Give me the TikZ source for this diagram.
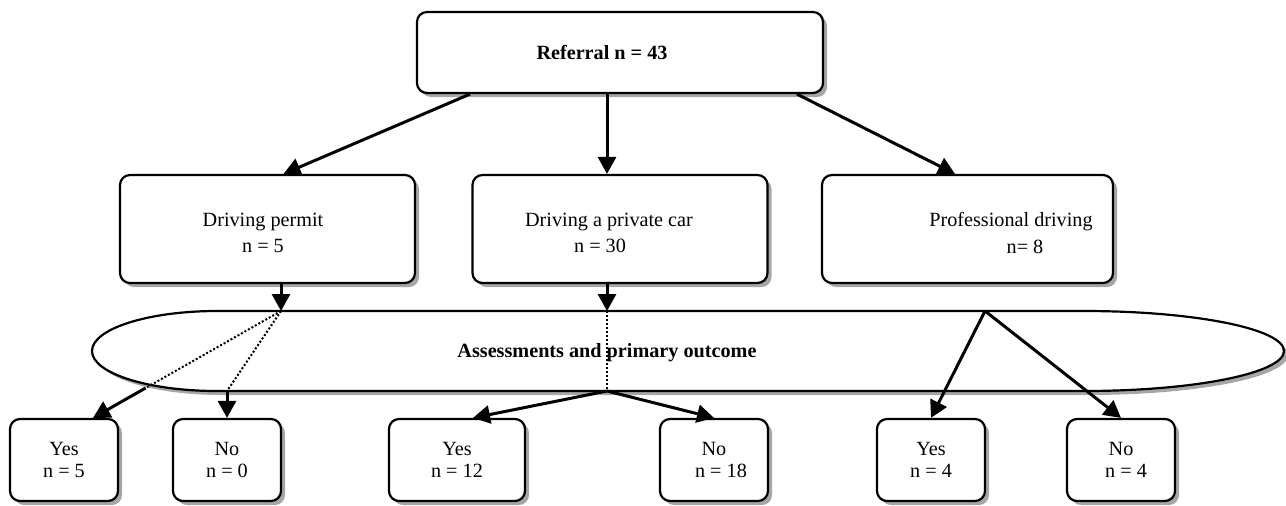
\documentclass[tikz,border=0pt]{standalone}
\usepackage{fontspec}
\setmainfont{Liberation Serif}
\usepackage{tikz}
\usetikzlibrary{arrows.meta,calc,shadows}

\begin{document}
\begin{tikzpicture}[x=0.5pt, y=-0.5pt,
    font=\fontsize{10.1}{13.3}\selectfont,
    box/.style={draw, line width=1.1pt, rounded corners=5pt, fill=white, align=center,
      drop shadow={shadow xshift=2pt, shadow yshift=-2pt, fill=black!35, opacity=1}},
    midbox/.style={box, minimum width=147.5pt, minimum height=54pt},
    outbox/.style={box, minimum width=54pt, minimum height=41pt,
      font=\fontsize{10.1}{11}\selectfont},
    oval/.style={draw, line width=1.1pt, fill=white,
      drop shadow={shadow xshift=2pt, shadow yshift=-2pt, fill=black!35, opacity=1}},
    arr/.style={line width=1.5pt, -{Triangle[length=8.5pt, width=9pt]}},
    dots/.style={line width=1pt, dash pattern=on 1pt off 1pt}]
    \useasboundingbox (0,0) rectangle (1286,505);

    % Referral
    \node[box, minimum width=203pt, minimum height=40.5pt] (ref) at (620,52.5) {};
    \node[font=\fontsize{10.1}{13}\selectfont\bfseries] (reft) at (602,52) {Referral n = 43};

    % Driving groups
    \node[midbox] (permit) at (267.5,229) {};
    \node[midbox] (private) at (620,229) {};
    \node[midbox, minimum width=145.5pt] (prof) at (967.5,229) {};
    \node[align=center] (permitt) at (263,233) {Driving permit\\n = 5};
    \node[align=center] (privatet) at (609,233) {Driving a private car\\n = 30\hspace*{9pt}};
    \node[align=center] (proft) at (1011,233) {Professional driving\\\hspace*{14pt}n= 8};

    % Assessments
    \draw[oval] (217,311) -- (1084,311)
      arc[start angle=-90, end angle=90, x radius=200, y radius=40] -- (217,391)
      arc[start angle=90, end angle=270, x radius=125, y radius=40] -- cycle;
    \node[font=\fontsize{10.1}{13}\selectfont\bfseries] (assess) at (607,353) {Assessments and primary outcome};
    \coordinate (jl) at (281,311);
    \coordinate (jm) at (607,311);
    \coordinate (jmb) at (607,391);
    \coordinate (jr) at (985,311);

    % Primary outcome
    \node[outbox] (yes1) at (64,460) {Yes\\n = 5};
    \node[outbox] (no1) at (227,460) {No\\n = 0};
    \node[outbox, minimum width=68pt] (yes2) at (457,460) {Yes\\n = 12};
    \node[outbox] (no2) at (714,460) {No\\\hspace*{7pt}n = 18};
    \node[outbox] (yes3) at (931,460) {Yes\\n = 4};
    \node[outbox] (no3) at (1121,460) {No\\\hspace*{5pt}n = 4};

    % Referral to groups
    \draw[arr] ([xshift=-75pt]ref.south) -- ([xshift=8pt]permit.north);
    \draw[arr] ([xshift=-6.5pt]ref.south) -- (private.north -| jm);
    \draw[arr] ([xshift=88.5pt]ref.south) -- ([xshift=-6.25pt]prof.north);

    % Groups to assessments
    \draw[arr] (permit.south -| jl) -- (jl);
    \draw[arr] (private.south -| jm) -- (jm);

    % Outcomes
    \coordinate (yes1in) at ([xshift=14.5pt]yes1.north);
    \coordinate (yes1mid) at ($(jl)!0.72!(yes1in)$);
    \draw[dots] (jl) -- (yes1mid);
    \draw[arr] (yes1mid) -- (yes1in);
    \draw[dots] (jl) -- (no1.north |- jmb);
    \draw[arr] (no1.north |- jmb) -- (no1.north);
    \draw[dots] (jm) -- (jmb);
    \draw[arr] (jmb) -- ([xshift=8pt]yes2.north);
    \draw[arr] (jmb) -- (no2.north);
    \draw[arr] (jr) -- (yes3.north);
    \draw[arr] (jr) -- (no3.north);
\end{tikzpicture}
\end{document}
